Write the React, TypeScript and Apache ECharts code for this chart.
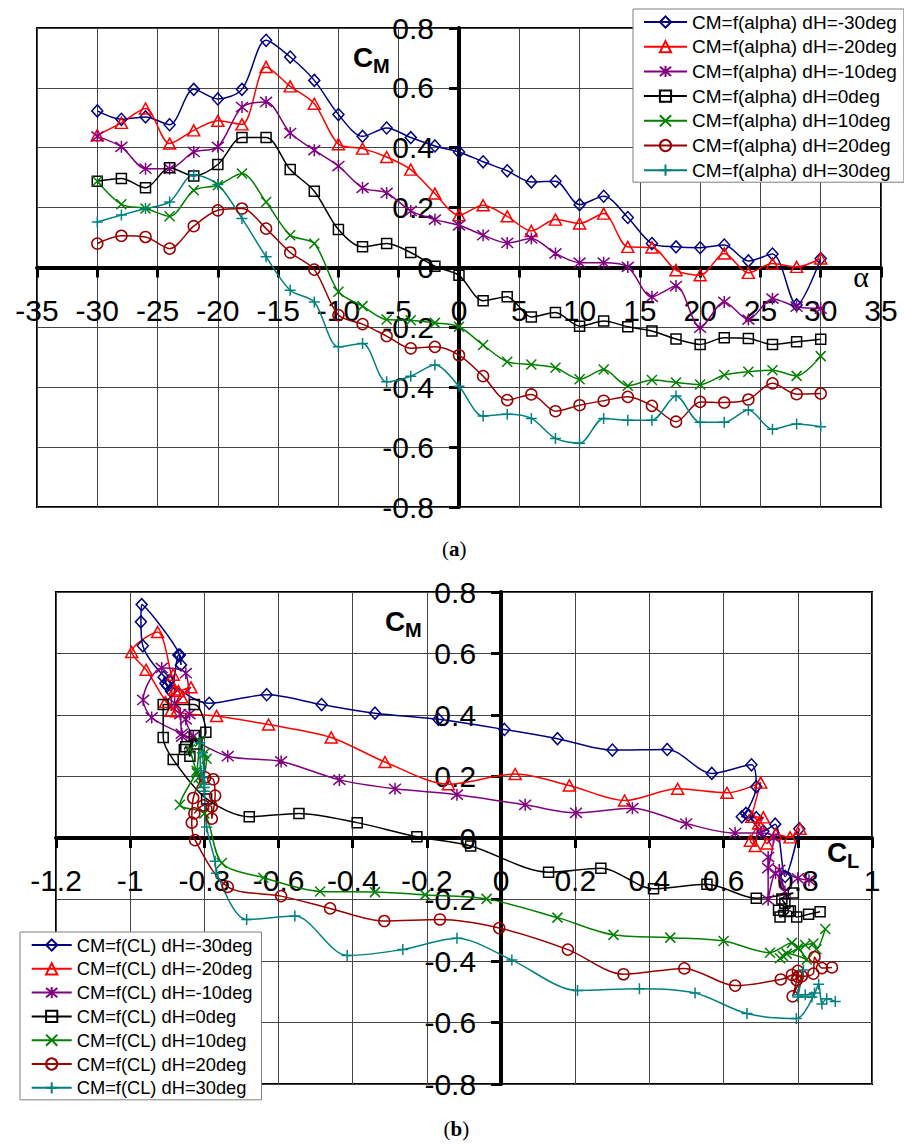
import React, { useEffect, useRef } from "react";
import * as echarts from "echarts";

// Angle of attack (deg)
const alpha = [-30, -28, -26, -24, -22, -20, -18, -16, -14, -12, -10, -8, -6, -4, -2, 0, 2, 4, 6, 8, 10, 12, 14, 16, 18, 20, 22, 24, 26, 28, 30];

// Elevator deflections
const dH = ["-30", "-20", "-10", "0", "10", "20", "30"];

// Pitching moment coefficient CM for each elevator deflection
const cmM30 = [0.523, 0.495, 0.503, 0.477, 0.595, 0.563, 0.595, 0.759, 0.703, 0.625, 0.511, 0.438, 0.466, 0.434, 0.406, 0.386, 0.353, 0.323, 0.286, 0.288, 0.210, 0.238, 0.167, 0.080, 0.069, 0.066, 0.075, 0.022, 0.045, -0.125, 0.030];
const cmM20 = [0.442, 0.483, 0.531, 0.414, 0.458, 0.490, 0.478, 0.670, 0.605, 0.547, 0.412, 0.397, 0.369, 0.327, 0.247, 0.175, 0.208, 0.171, 0.122, 0.160, 0.147, 0.180, 0.069, 0.067, -0.009, -0.026, 0.047, -0.018, 0.013, 0.002, 0.030];
const cmM10 = [0.438, 0.403, 0.330, 0.330, 0.386, 0.403, 0.536, 0.553, 0.449, 0.392, 0.339, 0.266, 0.249, 0.189, 0.160, 0.141, 0.108, 0.082, 0.097, 0.047, 0.016, 0.016, 0.002, -0.098, -0.062, -0.201, -0.115, -0.174, -0.104, -0.131, -0.137];
const cm0 = [0.288, 0.297, 0.266, 0.333, 0.306, 0.344, 0.434, 0.434, 0.327, 0.255, 0.127, 0.069, 0.080, 0.050, 0.004, -0.026, -0.111, -0.098, -0.165, -0.150, -0.196, -0.179, -0.198, -0.212, -0.239, -0.257, -0.235, -0.237, -0.257, -0.248, -0.240];
const cmP10 = [0.288, 0.211, 0.197, 0.171, 0.258, 0.275, 0.314, 0.219, 0.108, 0.080, -0.081, -0.129, -0.174, -0.176, -0.185, -0.198, -0.259, -0.315, -0.324, -0.335, -0.373, -0.341, -0.395, -0.376, -0.384, -0.391, -0.359, -0.348, -0.343, -0.362, -0.296];
const cmP20 = [0.080, 0.106, 0.102, 0.063, 0.138, 0.191, 0.197, 0.130, 0.050, -0.007, -0.159, -0.189, -0.229, -0.270, -0.265, -0.293, -0.363, -0.443, -0.424, -0.480, -0.460, -0.445, -0.432, -0.462, -0.515, -0.449, -0.451, -0.441, -0.387, -0.423, -0.421];
const cmP30 = [0.152, 0.175, 0.197, 0.219, 0.310, 0.277, 0.164, 0.036, -0.076, -0.115, -0.265, -0.254, -0.382, -0.363, -0.326, -0.397, -0.496, -0.490, -0.504, -0.571, -0.587, -0.504, -0.510, -0.510, -0.429, -0.517, -0.517, -0.476, -0.540, -0.523, -0.532];

// Lift coefficient CL at the same angles
const clM30 = [-0.910, -0.900, -0.905, -0.890, -0.870, -0.863, -0.866, -0.969, -0.971, -0.966, -0.895, -0.787, -0.632, -0.484, -0.340, -0.169, 0.009, 0.152, 0.300, 0.448, 0.568, 0.675, 0.688, 0.660, 0.649, 0.688, 0.667, 0.707, 0.739, 0.766, 0.804];
const clM20 = [-0.905, -0.880, -0.884, -0.890, -0.861, -0.836, -0.870, -0.926, -0.996, -0.957, -0.875, -0.767, -0.627, -0.458, -0.313, -0.142, 0.038, 0.184, 0.333, 0.476, 0.609, 0.700, 0.676, 0.707, 0.672, 0.685, 0.694, 0.717, 0.740, 0.779, 0.806];
const clM10 = [-0.880, -0.865, -0.860, -0.830, -0.850, -0.840, -0.850, -0.915, -0.965, -0.942, -0.861, -0.737, -0.593, -0.436, -0.286, -0.119, 0.065, 0.202, 0.354, 0.499, 0.631, 0.700, 0.735, 0.720, 0.720, 0.720, 0.740, 0.765, 0.750, 0.800, 0.830];
const cl0 = [-0.854, -0.850, -0.839, -0.827, -0.820, -0.796, -0.827, -0.911, -0.911, -0.884, -0.794, -0.679, -0.545, -0.388, -0.227, -0.082, 0.128, 0.269, 0.411, 0.555, 0.688, 0.788, 0.757, 0.765, 0.775, 0.752, 0.748, 0.780, 0.797, 0.829, 0.860];
const clP10 = [-0.839, -0.820, -0.815, -0.810, -0.794, -0.800, -0.812, -0.821, -0.866, -0.800, -0.753, -0.641, -0.488, -0.340, -0.205, -0.039, 0.152, 0.303, 0.456, 0.600, 0.725, 0.784, 0.824, 0.770, 0.760, 0.752, 0.800, 0.820, 0.842, 0.850, 0.874];
const clP20 = [-0.827, -0.803, -0.780, -0.780, -0.771, -0.776, -0.798, -0.830, -0.834, -0.825, -0.737, -0.593, -0.461, -0.315, -0.165, -0.005, 0.180, 0.330, 0.494, 0.631, 0.754, 0.784, 0.800, 0.797, 0.786, 0.811, 0.800, 0.842, 0.845, 0.865, 0.892];
const clP30 = [-0.800, -0.800, -0.805, -0.810, -0.812, -0.805, -0.800, -0.794, -0.771, -0.767, -0.686, -0.556, -0.415, -0.265, -0.119, 0.029, 0.206, 0.373, 0.523, 0.663, 0.796, 0.845, 0.820, 0.800, 0.815, 0.800, 0.838, 0.856, 0.865, 0.878, 0.901];

const cmSets = [cmM30, cmM20, cmM10, cm0, cmP10, cmP20, cmP30];
const clSets = [clM30, clM20, clM10, cl0, clP10, clP20, clP30];

const colors = ["#000080", "#ff0000", "#800080", "#000000", "#008000", "#990000", "#008080"];
const symbols = [
  "diamond",
  "triangle",
  "path://M5,0L5,10M0.8,0.8L9.2,9.2M9.2,0.8L0.8,9.2",
  "rect",
  "path://M0,0L10,10M10,0L0,10",
  "circle",
  "path://M5,0L5,10M0,5L10,5",
];
const symbolSizes: any[] = [[11, 12], [12, 11], 12, 10, 10, 11, 11];

const SANS = '"Liberation Sans", Arial, sans-serif';
const SERIF = '"Liberation Serif", "Times New Roman", serif';

// Plot boxes: [left, top, width, height]
const topBox = [37, 28, 844, 479];
const botBox = [56, 592, 816, 492];

function makeSeries(names: string[], xs: (i: number) => number[], axisIndex: number) {
  return names.map((name, k) => ({
    name,
    type: "line",
    xAxisIndex: axisIndex,
    yAxisIndex: axisIndex,
    data: cmSets[k].map((v, i) => [xs(k)[i], v]),
    smooth: 0.3,
    symbol: symbols[k],
    symbolSize: symbolSizes[k],
    showAllSymbol: true,
    lineStyle: { color: colors[k], width: 1.5 },
    itemStyle: { color: "rgba(0,0,0,0)", borderColor: colors[k], borderWidth: 1.5 },
    emphasis: { disabled: true },
    z: 3,
  }));
}

// x axis crossing the plot at CM = 0 (middle of the box)
function xAxisFor(gridIndex: number, min: number, max: number, interval: number, margin: number, box: number[]) {
  return {
    type: "value",
    gridIndex,
    min,
    max,
    interval,
    position: "bottom",
    offset: -box[3] / 2,
    axisLine: { show: true, onZero: false, lineStyle: { color: "#000", width: 4 } },
    axisTick: { show: true, length: 10, lineStyle: { color: "#000", width: 3 } },
    axisLabel: { margin, fontSize: 30, fontFamily: SANS, color: "#000", showMinLabel: true, showMaxLabel: true },
    splitLine: { show: true, lineStyle: { color: "#444", width: 1 } },
  };
}

// y axis crossing the plot at x = 0
function yAxisFor(gridIndex: number, xmin: number, xmax: number, box: number[]) {
  return {
    type: "value",
    gridIndex,
    min: -0.8,
    max: 0.8,
    interval: 0.2,
    position: "left",
    offset: -((0 - xmin) / (xmax - xmin)) * box[2],
    axisLine: { show: true, onZero: false, lineStyle: { color: "#000", width: 4 } },
    axisTick: { show: true, length: 10, lineStyle: { color: "#000", width: 3 } },
    axisLabel: { margin: 25, fontSize: 30, fontFamily: SANS, color: "#000", showMinLabel: true, showMaxLabel: true },
    splitLine: { show: true, lineStyle: { color: "#444", width: 1 } },
  };
}

function text(x: number, y: number, str: string, size: number, opts: any = {}) {
  return {
    type: "text",
    x,
    y,
    z: 10,
    style: {
      text: str,
      fill: "#000",
      fontSize: size,
      fontFamily: opts.family || SANS,
      fontWeight: opts.weight || "normal",
      align: opts.align || "left",
      textAlign: opts.align || "left",
      verticalAlign: "middle",
      textVerticalAlign: "middle",
    },
  };
}

export default function App() {
  const ref = useRef<HTMLDivElement>(null);

  useEffect(() => {
    const chart = echarts.init(ref.current!, null, { renderer: "svg" });
    const topNames = dH.map((d) => `CM=f(alpha) dH=${d}deg`);
    const botNames = dH.map((d) => `CM=f(CL) dH=${d}deg`);

    const gridOf = (b: number[]) => ({
      left: b[0],
      top: b[1],
      width: b[2],
      height: b[3],
      show: true,
      borderColor: "#000",
      borderWidth: 2,
      backgroundColor: "transparent",
      containLabel: false,
      outerBoundsMode: "none",
    });

    const option: any = {
      animation: false,
      backgroundColor: "#fff",
      grid: [gridOf(topBox), gridOf(botBox)],
      xAxis: [xAxisFor(0, -35, 35, 5, 28, topBox), xAxisFor(1, -1.2, 1, 0.2, 27, botBox)],
      yAxis: [yAxisFor(0, -35, 35, topBox), yAxisFor(1, -1.2, 1, botBox)],
      legend: [
        {
          data: topNames,
          orient: "vertical",
          left: 633,
          top: 9,
          itemWidth: 43,
          itemHeight: 14,
          itemGap: 4.7,
          padding: [3, 7, 2, 10],
          backgroundColor: "#fff",
          borderColor: "#7f7f7f",
          borderWidth: 1,
          selectedMode: false,
          textStyle: { fontSize: 19, fontFamily: SANS, color: "#000", lineHeight: 20 },
          z: 6,
        },
        {
          data: botNames,
          orient: "vertical",
          left: 20,
          top: 932,
          itemWidth: 40,
          itemHeight: 14,
          itemGap: 3.8,
          padding: [3, 9, 2, 10.7],
          backgroundColor: "#fff",
          borderColor: "#7f7f7f",
          borderWidth: 1,
          selectedMode: false,
          textStyle: { fontSize: 18.3, fontFamily: SANS, color: "#000", lineHeight: 20 },
          z: 6,
        },
      ],
      series: [
        ...makeSeries(topNames, () => alpha, 0),
        ...makeSeries(botNames, (k) => clSets[k], 1),
      ],
      graphic: [
        text(353, 57, "C", 28, { weight: "bold" }),
        text(373, 66, "M", 20, { weight: "bold" }),
        text(861, 276, "α", 30, { family: SERIF, align: "center" }),
        text(385, 621, "C", 28, { weight: "bold" }),
        text(405, 630, "M", 20, { weight: "bold" }),
        text(827, 852, "C", 28, { weight: "bold" }),
        text(847, 861, "L", 20, { weight: "bold" }),
        text(442, 549, "(", 21, { family: SERIF }),
        text(449, 549, "a", 21, { family: SERIF, weight: "bold" }),
        text(459.5, 549, ")", 21, { family: SERIF }),
        text(443.5, 1129, "(", 21, { family: SERIF }),
        text(450.5, 1129, "b", 21, { family: SERIF, weight: "bold" }),
        text(462.2, 1129, ")", 21, { family: SERIF }),
      ],
    };
    chart.setOption(option);
    return () => chart.dispose();
  }, []);

  return (
    <div
      ref={ref}
      style={{ position: "absolute", left: 0, top: 0, width: 904, height: 1145, background: "#fff" }}
    />
  );
}
